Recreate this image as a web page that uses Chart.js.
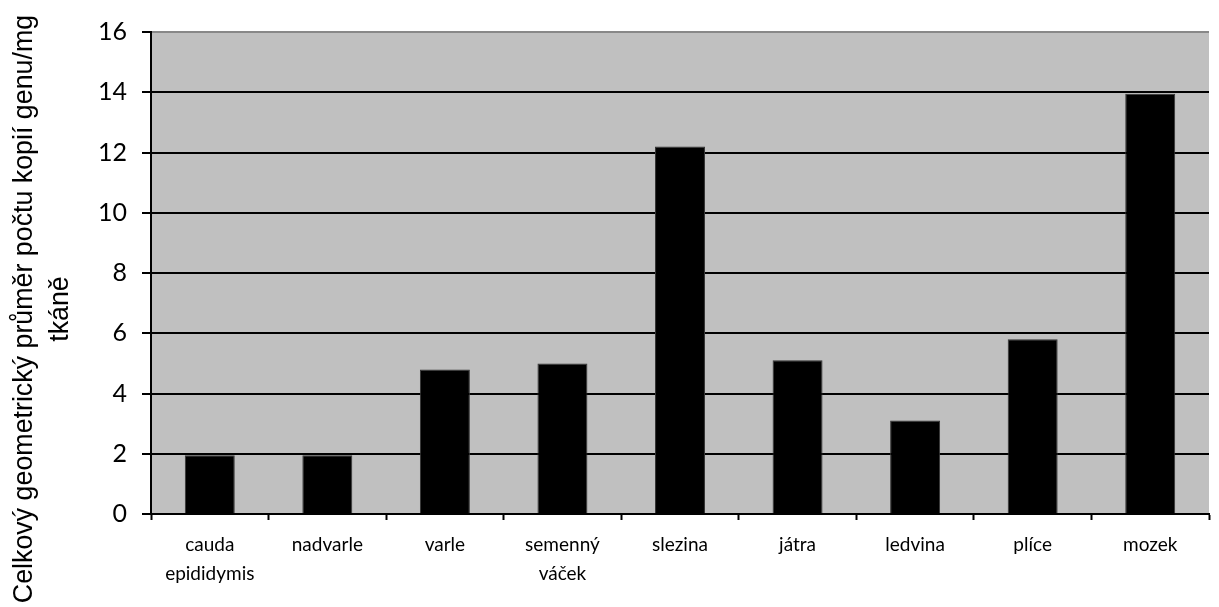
<!DOCTYPE html>
<html>
<head>
<meta charset="utf-8">
<script src="https://cdn.jsdelivr.net/npm/chart.js@4/dist/chart.umd.min.js"></script>
<style>
  html, body { margin: 0; padding: 0; background: #fff; }
  #wrap { width: 1219px; height: 607px; }
</style>
</head>
<body>
<div id="wrap"><canvas id="barChart"></canvas></div>
<script>
const tissues = [
  ["cauda", "epididymis"], "nadvarle", "varle", ["semenný", "váček"],
  "slezina", "játra", "ledvina", "plíce", "mozek"
];
const copies = [1.95, 1.95, 4.8, 5.0, 12.2, 5.1, 3.1, 5.8, 13.95];
const yTitle = ["Celkový geometrický průměr počtu kopií genu/mg", "tkáně"];

// gray plot background
const plotBg = {
  id: "plotBg",
  beforeDraw(chart) {
    const a = chart.chartArea;
    const ctx = chart.ctx;
    ctx.save();
    ctx.fillStyle = "#c0c0c0";
    ctx.fillRect(a.left, a.top, a.right - a.left, a.bottom - a.top);
    ctx.restore();
  }
};

// y axis title, centred on the whole canvas height like the original
const yTitlePlugin = {
  id: "yTitlePlugin",
  afterDraw(chart) {
    const ctx = chart.ctx;
    ctx.save();
    ctx.translate(0, 309);
    ctx.rotate(-Math.PI / 2);
    ctx.fillStyle = "#000";
    ctx.font = "26.8px 'Liberation Sans', Arial, sans-serif";
    ctx.textAlign = "center";
    ctx.textBaseline = "middle";
    yTitle.forEach((line, i) => ctx.fillText(line, 0, 25 + i * 36));
    ctx.restore();
  }
};

new Chart(document.getElementById("barChart"), {
  type: "bar",
  data: {
    labels: tissues,
    datasets: [{
      data: copies,
      backgroundColor: "#000000",
      borderColor: "#333333",
      borderWidth: 1,
      barPercentage: 0.425,
      categoryPercentage: 1.0
    }]
  },
  options: {
    responsive: true,
    maintainAspectRatio: false,
    animation: false,
    layout: { padding: { top: 32, right: 10, left: 0, bottom: 0 } },
    plugins: { legend: { display: false }, tooltip: { enabled: false } },
    scales: {
      x: {
        afterFit(scale) { scale.height = 93; },
        grid: {
          drawOnChartArea: false,
          drawTicks: true,
          tickLength: 6,
          tickWidth: 2,
          tickColor: "#000",
          offset: true
        },
        border: { color: "#000", width: 2 },
        ticks: {
          color: "#000",
          padding: 10,
          maxRotation: 0,
          autoSkip: false,
          font: { family: "Lato, 'Open Sans', sans-serif", size: 19, lineHeight: 1.53 }
        }
      },
      y: {
        min: 0,
        max: 16,
        afterFit(scale) { scale.width = 151; },
        grid: {
          color: (c) => (c.tick && c.tick.value === 16 ? "#888888" : "#000000"),
          lineWidth: 2,
          tickLength: 9,
          tickColor: "#000",
          tickWidth: 2
        },
        border: { color: "#000", width: 2 },
        ticks: {
          stepSize: 2,
          color: "#000",
          padding: 15,
          font: { family: "Lato, 'Open Sans', sans-serif", size: 25 }
        }
      }
    }
  },
  plugins: [plotBg, yTitlePlugin]
});
</script>
</body>
</html>
